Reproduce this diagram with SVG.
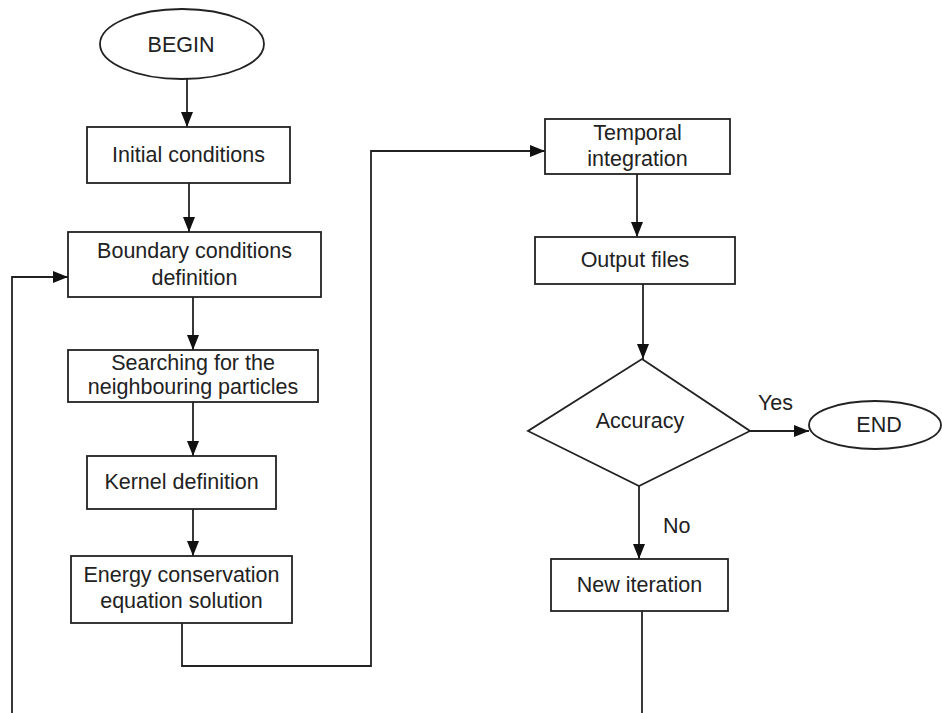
<svg xmlns="http://www.w3.org/2000/svg" width="942" height="713" viewBox="0 0 942 713">
<style>
.box{fill:#fff;stroke:#222;stroke-width:1.8}
.t{font-family:"Liberation Sans",Arial,sans-serif;font-size:21.5px;fill:#222;text-anchor:middle}
.lbl{font-family:"Liberation Sans",Arial,sans-serif;font-size:21.5px;fill:#222}
.c{fill:none;stroke:#222;stroke-width:1.8}
</style>
<defs>
<marker id="ah" markerWidth="15" markerHeight="12" refX="15" refY="6" orient="auto" markerUnits="userSpaceOnUse">
<path d="M0,0 L15,6 L0,12 Z" fill="#111"/>
</marker>
</defs>
<rect width="942" height="713" fill="#fff"/>
<g id="connectors">
<line class="c" x1="187" y1="79" x2="187" y2="127" marker-end="url(#ah)"/>
<line class="c" x1="189" y1="183" x2="189" y2="232" marker-end="url(#ah)"/>
<line class="c" x1="193" y1="297" x2="193" y2="350" marker-end="url(#ah)"/>
<line class="c" x1="193" y1="402" x2="193" y2="456" marker-end="url(#ah)"/>
<line class="c" x1="193" y1="509" x2="193" y2="556" marker-end="url(#ah)"/>
<polyline class="c" points="182,623 182,666 371,666 371,151 545,151" marker-end="url(#ah)"/>
<polyline class="c" points="12,713 12,277 68,277" marker-end="url(#ah)"/>
<line class="c" x1="637" y1="174" x2="637" y2="237" marker-end="url(#ah)"/>
<line class="c" x1="643" y1="284" x2="643" y2="359" marker-end="url(#ah)"/>
<line class="c" x1="750" y1="431" x2="809" y2="431" marker-end="url(#ah)"/>
<line class="c" x1="639" y1="486" x2="639" y2="559" marker-end="url(#ah)"/>
<line class="c" x1="642" y1="611" x2="642" y2="713"/>
<text class="lbl" x="758" y="410">Yes</text>
<text class="lbl" x="663" y="533">No</text>
</g>
<g id="begin">
<ellipse class="box" cx="182" cy="44" rx="82" ry="35"/>
<text class="t" x="181" y="52">BEGIN</text>
</g>
<g id="initial">
<rect class="box" x="87" y="127" width="203" height="56"/>
<text class="t" x="188.5" y="162">Initial conditions</text>
</g>
<g id="boundary">
<rect class="box" x="68" y="232" width="253" height="65"/>
<text class="t" x="194.5" y="258">Boundary conditions</text>
<text class="t" x="194.5" y="285">definition</text>
</g>
<g id="searching">
<rect class="box" x="68" y="350" width="250" height="52"/>
<text class="t" x="193" y="370">Searching for the</text>
<text class="t" x="193" y="394">neighbouring particles</text>
</g>
<g id="kernel">
<rect class="box" x="87" y="456" width="189" height="53"/>
<text class="t" x="181.5" y="489">Kernel definition</text>
</g>
<g id="energy">
<rect class="box" x="71" y="556" width="221" height="67"/>
<text class="t" x="181.5" y="582">Energy conservation</text>
<text class="t" x="181.5" y="608">equation solution</text>
</g>
<g id="temporal">
<rect class="box" x="545" y="119" width="185" height="55"/>
<text class="t" x="637.5" y="140">Temporal</text>
<text class="t" x="637.5" y="166">integration</text>
</g>
<g id="output">
<rect class="box" x="535" y="237" width="200" height="47"/>
<text class="t" x="635" y="267">Output files</text>
</g>
<g id="accuracy">
<polygon class="box" points="642,359 750,431 639,486 528,431"/>
<text class="t" x="640" y="428">Accuracy</text>
</g>
<g id="end">
<ellipse class="box" cx="875" cy="425" rx="66" ry="24"/>
<text class="t" x="879" y="432">END</text>
</g>
<g id="newiter">
<rect class="box" x="551" y="559" width="177" height="52"/>
<text class="t" x="639.5" y="592">New iteration</text>
</g>
</svg>
